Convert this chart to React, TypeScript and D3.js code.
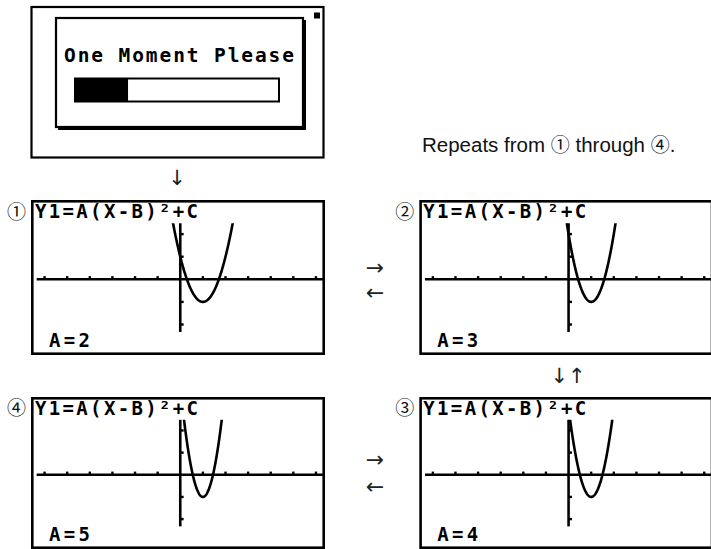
import React from 'react';
import * as d3 from 'd3';

// ---- data ----
const panelLabels = ['①', '②', '③', '④'];
const aValues = [2, 3, 4, 5];
const bValue = 1;
const cValue = -1;
const formulaLabel = 'Y1=A(X-B)²+C';
const xTickValues = [-6, -5, -4, -3, -2, -1, 1, 2, 3, 4, 5, 6];
const yTickValues = [-2, -1, 1, 2];
const loadingLabel = 'One Moment Please';
const progressFraction = 0.26;
const captionParts = ['Repeats from ', '①', ' through ', '④', '.'];

const W = 711;
const H = 549;
const PW = 294;
const calcFont = "'DejaVu Sans Mono', monospace";
const symFont = "'DejaVu Sans', sans-serif";
const cjkFont = "'Noto Sans CJK JP', sans-serif";

type PanelLayout = { left: number; top: number; h: number };
// layout order matches panelLabels / aValues: ①, ②, ③, ④
const layouts: PanelLayout[] = [
  { left: 31, top: 200, h: 155 },
  { left: 419.3, top: 200, h: 155 },
  { left: 419.3, top: 397, h: 152 },
  { left: 31, top: 397, h: 152 },
];

function Panel({ idx }: { idx: number }) {
  const L = layouts[idx];
  const a = aValues[idx];
  const x = d3.scaleLinear().domain([-6.6, 6.4]).range([0, PW]);
  const y = d3.scaleLinear().domain([-3.35, 3.51]).range([L.h, 0]);
  const yTop = 2.48;
  const yBot = -2.33;
  const xs = d3.range(-1.2, 3.2, 0.01);
  const pts = xs.map((v) => [v, a * (v - bValue) ** 2 + cValue] as [number, number]);
  const line = d3
    .line<[number, number]>()
    .x((d) => x(d[0]))
    .y((d) => y(d[1]));
  const clipId = `clip-${idx}`;
  return (
    <g transform={`translate(${L.left},${L.top})`}>
      <defs>
        <clipPath id={clipId}>
          <rect x={0} y={y(yTop)} width={PW} height={L.h - y(yTop)} />
        </clipPath>
      </defs>
      <rect x={1.3} y={1.3} width={PW - 2.6} height={L.h - 2.6} fill="#fff" stroke="#000" strokeWidth={2.6} />
      <text
        x={-14.5}
        y={L.h * 0.065}
        fontFamily={cjkFont}
        fontSize={19}
        textAnchor="middle"
        dominantBaseline="central"
        fill="#111"
      >
        {panelLabels[idx]}
      </text>
      <text
        x={4}
        y={L.h * 0.116}
        fontFamily={calcFont}
        fontWeight="bold"
        fontSize={19}
        textLength={163}
        lengthAdjust="spacing"
        fill="#000"
      >
        {formulaLabel}
      </text>
      {/* x axis */}
      <line x1={x(-6.35)} x2={PW} y1={y(0)} y2={y(0)} stroke="#000" strokeWidth={2.6} />
      {xTickValues.map((t) => (
        <line key={`xt${t}`} x1={x(t)} x2={x(t)} y1={y(0)} y2={y(0) - 3.2} stroke="#000" strokeWidth={2.4} />
      ))}
      {/* y axis */}
      <line x1={x(0)} x2={x(0)} y1={y(yTop)} y2={y(yBot)} stroke="#000" strokeWidth={2.6} />
      {yTickValues.map((t) => (
        <line key={`yt${t}`} x1={x(0)} x2={x(0) + 3.4} y1={y(t)} y2={y(t)} stroke="#000" strokeWidth={2.4} />
      ))}
      <path d={line(pts) || ''} fill="none" stroke="#000" strokeWidth={2.6} clipPath={`url(#${clipId})`} />
      <text
        x={18}
        y={L.h * 0.946}
        fontFamily={calcFont}
        fontWeight="bold"
        fontSize={19}
        textLength={41}
        lengthAdjust="spacing"
        fill="#000"
      >
        {`A=${a}`}
      </text>
    </g>
  );
}

export default function App() {
  const barX = d3.scaleLinear().domain([0, 1]).range([75, 279]);
  const arrowStyle = {
    fontFamily: symFont,
    textAnchor: 'middle' as const,
    dominantBaseline: 'central' as const,
    fill: '#222',
  };
  return (
    <svg
      width={W}
      height={H}
      viewBox={`0 0 ${W} ${H}`}
      style={{ position: 'absolute', left: 0, top: 0, display: 'block', background: '#fff' }}
    >
      <rect width={W} height={H} fill="#fff" />
      {/* loading screen */}
      <rect x={31.5} y={7} width={292} height={150.5} fill="#fff" stroke="#000" strokeWidth={2.2} />
      <rect x={314} y={12.5} width={6} height={6} fill="#000" />
      {/* dialog shadow + box */}
      <rect x={58} y={20} width={248} height={110} fill="#000" />
      <rect x={56} y={18} width={247} height={109} fill="#fff" stroke="#000" strokeWidth={2.2} />
      <text
        x={64}
        y={62}
        fontFamily={calcFont}
        fontWeight="bold"
        fontSize={19.5}
        textLength={230}
        lengthAdjust="spacing"
        fill="#000"
      >
        {loadingLabel}
      </text>
      <rect x={barX(0)} y={78.5} width={barX(1) - barX(0)} height={23} fill="#fff" stroke="#000" strokeWidth={2} />
      <rect x={barX(0)} y={78.5} width={barX(progressFraction) - barX(0)} height={23} fill="#000" />

      <text x={177} y={178} fontSize={21} {...arrowStyle}>
        ↓
      </text>

      <text x={422} y={151.5} fontFamily="'Liberation Sans', Arial, sans-serif" fontSize={20.5} fill="#111">
        {captionParts.map((p, i) =>
          p === '①' || p === '④' ? (
            <tspan key={i} fontFamily={cjkFont} fontSize={19}>
              {p}
            </tspan>
          ) : (
            <tspan key={i}>{p}</tspan>
          )
        )}
      </text>

      {layouts.map((_, i) => (
        <Panel key={i} idx={i} />
      ))}

      <text x={375} y={267} fontSize={22} {...arrowStyle}>
        →
      </text>
      <text x={375} y={292} fontSize={22} {...arrowStyle}>
        ←
      </text>
      <text x={375} y={459} fontSize={22} {...arrowStyle}>
        →
      </text>
      <text x={375} y={486} fontSize={22} {...arrowStyle}>
        ←
      </text>
      <text x={568} y={376} fontSize={21} {...arrowStyle}>
        ↓↑
      </text>
    </svg>
  );
}
